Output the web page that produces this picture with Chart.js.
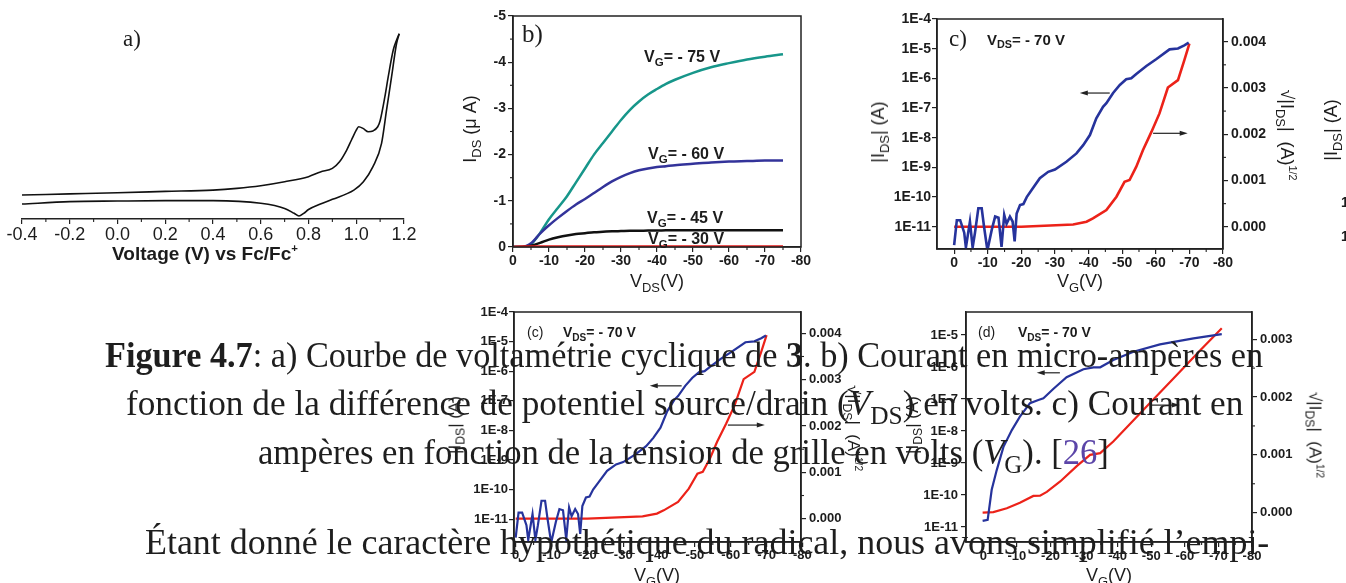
<!DOCTYPE html>
<html>
<head>
<meta charset="utf-8">
<script src="https://cdn.jsdelivr.net/npm/chart.js@4.4.1/dist/chart.umd.min.js"></script>
<style>
  html, body { margin: 0; padding: 0; background: #fff; }
  #page { position: relative; width: 1346px; height: 583px; overflow: hidden; background: #fff; }
  .holder { position: absolute; }
  .t { position: absolute; white-space: nowrap; color: #1c1c1c; font-family: "Liberation Sans", Arial, sans-serif; line-height: 1; }
  .serif { font-family: "Liberation Serif", "DejaVu Serif", serif; }
  .t sub, .cap sub { font-size: 0.72em; vertical-align: -0.35em; line-height: 0; }
  .t sup { font-size: 0.6em; vertical-align: 0.7em; line-height: 0; }
  .cap { position: absolute; white-space: nowrap; font-family: "Liberation Serif", serif; font-size: 35px; line-height: 35px; color: #1e1e1e; transform-origin: 0 0; }
  .ref { color: #5b45a8; }
</style>
</head>
<body>
<div id="page"></div>
<script>
// ---------- data ----------
// a) cyclic voltammetry, current in arbitrary units
const aTicks = ["-0.4", "-0.2", "0.0", "0.2", "0.4", "0.6", "0.8", "1.0", "1.2"]
const aUpperV = [-0.4, -0.2, 0, 0.2, 0.4, 0.5, 0.6, 0.7, 0.8, 0.85, 0.9, 0.93, 0.96, 0.98, 1.0, 1.01, 1.03, 1.05, 1.07, 1.09, 1.1, 1.12, 1.134, 1.155, 1.169, 1.18]
const aUpperI = [12.7, 13.3, 13.9, 14.6, 15.3, 16.2, 17.6, 19.7, 22.4, 24.9, 26.8, 30.3, 36.5, 41.8, 47, 48.8, 47.8, 46.2, 46.6, 48.8, 52, 64.7, 75.3, 89.4, 94.7, 98]
const aLowerV = [-0.4, -0.2, 0, 0.2, 0.4, 0.6, 0.7, 0.74, 0.76, 0.78, 0.8, 0.85, 0.9, 0.99, 1.03, 1.07, 1.106, 1.127, 1.148, 1.169, 1.18]
const aLowerI = [7.9, 9.2, 9.5, 9.7, 9.7, 8.3, 5.6, 3, 1.6, 3, 5, 7.9, 10.4, 15.3, 19.7, 27.7, 40, 57.7, 75.3, 93, 98]

// b) output curves, I_DS (uA) vs V_DS (V)
const bXTicks = ["0", "-10", "-20", "-30", "-40", "-50", "-60", "-70", "-80"]
const bYTicks = ["-5", "-4", "-3", "-2", "-1", "0"]
const bVds = [0, -2.5, -5, -7.5, -10, -12.5, -15, -17.5, -20, -22.5, -25, -27.5, -30, -32.5, -35, -37.5, -40, -42.5, -45, -50, -55, -60, -65, -70, -75]
const bVg75 = [0, 0, -0.06, -0.3, -0.6, -0.85, -1.1, -1.4, -1.7, -2.0, -2.25, -2.5, -2.75, -2.97, -3.15, -3.3, -3.42, -3.53, -3.62, -3.77, -3.89, -3.98, -4.06, -4.12, -4.17]
const bVg60 = [0, 0, -0.08, -0.29, -0.47, -0.63, -0.78, -0.92, -1.04, -1.17, -1.3, -1.42, -1.52, -1.6, -1.66, -1.7, -1.73, -1.75, -1.77, -1.8, -1.83, -1.85, -1.86, -1.87, -1.87]
const bVg45 = [0, 0, -0.03, -0.09, -0.16, -0.21, -0.25, -0.28, -0.3, -0.32, -0.33, -0.34, -0.345, -0.35, -0.35, -0.355, -0.355, -0.36, -0.36, -0.36, -0.36, -0.36, -0.36, -0.365, -0.365]
const bVg30 = [0, -0.01, -0.01, -0.01, -0.01, -0.01, -0.01, -0.01, -0.01, -0.01, -0.01, -0.01, -0.01, -0.01, -0.01, -0.01, -0.01, -0.01, -0.01, -0.01, -0.01, -0.01, -0.01, -0.01, -0.01]

// c) transfer curve, V_DS = -70 V
const cXTicks = ["0", "-10", "-20", "-30", "-40", "-50", "-60", "-70", "-80"]
const cLogTicks = ["1E-4", "1E-5", "1E-6", "1E-7", "1E-8", "1E-9", "1E-10", "1E-11"]
const cSqrtTicks = ["0.000", "0.001", "0.002", "0.003", "0.004"]
const cBlueVg = [0, -0.8, -1.8, -3, -3.5, -4.7, -5.5, -6.2, -7.2, -8.2, -8.9, -9.9, -11.2, -12.2, -13.2, -14.1, -14.9, -15.6, -16.6, -17.4, -18, -18.6, -19.6, -20.6, -21.6, -23, -25.5, -28, -30, -33.4, -36.4, -38.4, -40.4, -42.3, -44.3, -45.3, -47.3, -49.3, -51.2, -52.7, -54.2, -57.2, -60.1, -64.1, -66.6, -68.5, -69.8]
const cBlueIds = [2.4e-12, 1.66e-11, 1.66e-11, 6.3e-12, 2.0e-12, 1.5e-11, 2.0e-12, 6.3e-12, 4.2e-11, 4.2e-11, 1.0e-11, 1.6e-12, 8.0e-12, 2.2e-11, 2.0e-11, 2.1e-12, 2.5e-11, 1.26e-11, 2.2e-11, 1.5e-11, 3.2e-12, 2.8e-11, 5.4e-11, 5.8e-11, 1.0e-10, 1.7e-10, 4.3e-10, 7.1e-10, 8.5e-10, 1.55e-9, 2.95e-9, 5.6e-9, 1.23e-8, 4.5e-8, 1.1e-7, 1.45e-7, 3.2e-7, 6.0e-7, 9.3e-7, 1.0e-6, 1.4e-6, 2.6e-6, 4.4e-6, 9.5e-6, 1.02e-5, 1.3e-5, 1.6e-5]
const cRedVg = [0, -20, -35.4, -39.4, -41.3, -45.3, -48.3, -50.7, -52.2, -54.2, -56.2, -58.7, -61.1, -63.6, -66.6, -68.5, -70]
const cRedSqrt = [0, 0, 0.00005, 0.00011, 0.00018, 0.00036, 0.00065, 0.00097, 0.00101, 0.0013, 0.00166, 0.00205, 0.00245, 0.00301, 0.00317, 0.0036, 0.00396]
const cArrows = [{ axis: "y", at: 3.2e-7, from: -46.3, to: -37.4 }, { axis: "y2", at: 0.00202, from: -59.2, to: -69.5 }]

// d) transfer curve, V_DS = -70 V
const dXTicks = ["0", "-10", "-20", "-30", "-40", "-50", "-60", "-70", "-80"]
const dLogTicks = ["1E-5", "1E-6", "1E-7", "1E-8", "1E-9", "1E-10", "1E-11"]
const dSqrtTicks = ["0.000", "0.001", "0.002", "0.003"]
const dBlueVg = [0.2, -1.3, -2.5, -4, -6, -8.5, -10.9, -13.9, -16.4, -17.9, -20.9, -24.8, -29.8, -32.8, -34.8, -38.7, -44.7, -52.6, -62.6, -71]
const dBlueIds = [1.55e-11, 1.66e-11, 1.45e-10, 6.0e-10, 3.2e-9, 1.07e-8, 2.8e-8, 7.4e-8, 9.3e-8, 1.05e-7, 2.1e-7, 4.8e-7, 8.5e-7, 9.8e-7, 9.8e-7, 1.66e-6, 3.0e-6, 5.1e-6, 7.9e-6, 1.07e-5]
const dRedVg = [0.2, -3, -7, -10.9, -14.9, -16.9, -18.9, -22.9, -27.9, -31.8, -34.8, -38.7, -47.7, -57.6, -64.6, -71]
const dRedSqrt = [0, 0.00001, 0.000076, 0.00017, 0.00029, 0.000294, 0.00036, 0.00054, 0.00081, 0.001, 0.00103, 0.00123, 0.00178, 0.00238, 0.00281, 0.00319]
const dArrows = [{ axis: "y", at: 6.6e-7, from: -22.8, to: -15.9 }, { axis: "y2", at: 0.00186, from: -50, to: -58.5 }]

// ---------- setup ----------
Chart.defaults.font.family = '"Liberation Sans", Arial, sans-serif'
Chart.defaults.color = "#1c1c1c"
Chart.defaults.animation = false
Chart.defaults.events = []
Chart.defaults.plugins.legend.display = false
Chart.defaults.plugins.tooltip.enabled = false
Chart.defaults.elements.point.radius = 0

const page = document.getElementById("page")

// frame, minor ticks and arrows drawn with the chart's own scales
const framePlugin = {
  id: "frame",
  afterDatasetsDraw(chart, args, opts) {
    const ctx = chart.ctx
    const a = chart.chartArea
    ctx.save()
    ctx.strokeStyle = "#222"
    ctx.fillStyle = "#222"
    if (opts.box) {
      ctx.lineWidth = opts.width || 1.5
      ctx.strokeRect(a.left, a.top, a.right - a.left, a.bottom - a.top)
    }
    ;(opts.minor || []).forEach(m => {
      const s = chart.scales[m.axis]
      ctx.lineWidth = 1.1
      for (let v = m.from; v <= m.to + m.step / 100; v += m.step) {
        const p = s.getPixelForValue(v)
        ctx.beginPath()
        if (s.position === "bottom") { ctx.moveTo(p, a.bottom); ctx.lineTo(p, a.bottom + m.len) }
        else if (s.position === "left") { ctx.moveTo(a.left, p); ctx.lineTo(a.left - m.len, p) }
        else { ctx.moveTo(a.right, p); ctx.lineTo(a.right + m.len, p) }
        ctx.stroke()
      }
    })
    ;(opts.arrows || []).forEach(ar => {
      const x0 = chart.scales.x.getPixelForValue(ar.from)
      const x1 = chart.scales.x.getPixelForValue(ar.to)
      const y = chart.scales[ar.axis].getPixelForValue(ar.at)
      const dir = x1 > x0 ? 1 : -1
      ctx.lineWidth = 1.2
      ctx.beginPath()
      ctx.moveTo(x0, y)
      ctx.lineTo(x1 - dir * 6, y)
      ctx.stroke()
      ctx.beginPath()
      ctx.moveTo(x1, y)
      ctx.lineTo(x1 - dir * 8, y - 2.5)
      ctx.lineTo(x1 - dir * 8, y + 2.5)
      ctx.closePath()
      ctx.fill()
    })
    ctx.restore()
  }
}

function placeChart(id, box, pad) {
  // box = [left, top, right, bottom] of the plot area, pad = [top, right, bottom, left]
  const holder = document.createElement("div")
  holder.setAttribute("class", "holder")
  holder.style.left = (box[0] - pad[3]) + "px"
  holder.style.top = (box[1] - pad[0]) + "px"
  holder.style.width = (box[2] - box[0] + pad[1] + pad[3]) + "px"
  holder.style.height = (box[3] - box[1] + pad[0] + pad[2]) + "px"
  const canvasElement = document.createElement("canvas")
  canvasElement.setAttribute("id", id)
  holder.appendChild(canvasElement)
  page.appendChild(holder)
  return canvasElement.getContext("2d")
}

function axis(o) {
  const labels = o.labels
  return {
    type: o.type || "linear",
    position: o.position,
    min: o.min,
    max: o.max,
    reverse: !!o.reverse,
    afterBuildTicks: s => { s.ticks = labels.map(t => ({ value: parseFloat(t) })) },
    afterFit: s => {
      if (s.isHorizontal()) { s.height = o.size; s.paddingLeft = 0; s.paddingRight = 0 }
      else { s.width = o.size; s.paddingTop = 0; s.paddingBottom = 0 }
    },
    ticks: { autoSkip: false, maxRotation: 0, padding: o.pad, font: o.font, color: "#1c1c1c", callback: (v, i) => labels[i] },
    grid: { drawOnChartArea: false, tickLength: 5, color: "#222", lineWidth: 1.2 },
    border: { display: true, color: "#222", width: 1.5 }
  }
}

function line(xs, ys, color, width, yAxisID, smooth) {
  return {
    data: xs.map((x, i) => ({ x: x, y: ys[i] })),
    borderColor: color,
    borderWidth: width,
    pointRadius: 0,
    fill: false,
    yAxisID: yAxisID,
    cubicInterpolationMode: smooth ? "monotone" : "default",
    tension: 0
  }
}

function addText(html, x, y, cls, size, anchor, rot) {
  const el = document.createElement("div")
  el.setAttribute("class", "t " + (cls || ""))
  el.innerHTML = html
  el.style.left = x + "px"
  el.style.top = y + "px"
  el.style.fontSize = size + "px"
  const tx = anchor === "left" ? "0" : "-50%"
  el.style.transform = "translate(" + tx + ",-50%)" + (rot ? " rotate(" + rot + "deg)" : "")
  page.appendChild(el)
}

function addCaption(html, x0, x1, baseline) {
  const el = document.createElement("div")
  el.setAttribute("class", "cap")
  el.innerHTML = html
  el.style.left = x0 + "px"
  el.style.top = (baseline - 28.5) + "px"
  page.appendChild(el)
  const w = el.offsetWidth
  el.style.transform = "scaleX(" + ((x1 - x0) / w) + ")"
}

// ---------- charts ----------
function generateVoltammetry() {
  const ctx = placeChart("voltammetry", [22, 30, 404, 219], [10, 30, 40, 22])
  new Chart(ctx, {
    type: "line",
    data: {
      datasets: [
        line(aUpperV, aUpperI, "#111", 1.6, "y", true),
        line(aLowerV, aLowerI, "#111", 1.6, "y", true)
      ]
    },
    options: {
      responsive: true,
      maintainAspectRatio: false,
      layout: { padding: { top: 10, right: 30, bottom: 0, left: 22 } },
      scales: {
        x: axis({ labels: aTicks, position: "bottom", min: -0.4, max: 1.2, size: 40, pad: 0, font: { size: 18 } }),
        y: { display: false, min: 0, max: 100 }
      },
      plugins: { frame: { box: false, minor: [{ axis: "x", from: -0.3, to: 1.1, step: 0.2, len: 3 }] } }
    },
    plugins: [framePlugin]
  })
}

function generateOutput() {
  const ctx = placeChart("output", [513, 16, 801, 247], [10, 20, 40, 40])
  new Chart(ctx, {
    type: "line",
    data: {
      datasets: [
        line(bVds, bVg30, "#e41b1b", 2.5, "y", true),
        line(bVds, bVg45, "#111", 2.5, "y", true),
        line(bVds, bVg60, "#33339a", 2.5, "y", true),
        line(bVds, bVg75, "#17968a", 2.5, "y", true)
      ]
    },
    options: {
      responsive: true,
      maintainAspectRatio: false,
      layout: { padding: { top: 10, right: 20, bottom: 0, left: 0 } },
      scales: {
        x: axis({ labels: bXTicks, position: "bottom", min: -80, max: 0, reverse: true, size: 40, pad: 1, font: { size: 14, weight: "bold" } }),
        y: axis({ labels: bYTicks, position: "left", min: -5, max: 0, reverse: true, size: 40, pad: 2, font: { size: 14, weight: "bold" } })
      },
      plugins: {
        frame: {
          box: true,
          minor: [
            { axis: "x", from: -75, to: -5, step: 10, len: 3 },
            { axis: "y", from: -4.5, to: -0.5, step: 1, len: 3 }
          ]
        }
      }
    },
    plugins: [framePlugin]
  })
}

function generateTransfer(id, box, pad, r, fontSize, lw) {
  const ctx = placeChart(id, box, pad)
  new Chart(ctx, {
    type: "line",
    data: {
      datasets: [
        line(cBlueVg, cBlueIds, "#26339c", lw, "y", false),
        line(cRedVg, cRedSqrt, "#ec2219", lw, "y2", false)
      ]
    },
    options: {
      responsive: true,
      maintainAspectRatio: false,
      layout: { padding: { top: pad[0], right: 0, bottom: 0, left: 0 } },
      scales: {
        x: axis({ labels: cXTicks, position: "bottom", min: r.x[0], max: r.x[1], reverse: true, size: pad[2], pad: 1, font: { size: fontSize, weight: "bold" } }),
        y: axis({ labels: cLogTicks, type: "logarithmic", position: "left", min: r.y[0], max: r.y[1], size: pad[3], pad: 1, font: { size: fontSize, weight: "bold" } }),
        y2: axis({ labels: cSqrtTicks, position: "right", min: r.y2[0], max: r.y2[1], size: pad[1], pad: 3, font: { size: fontSize, weight: "bold" } })
      },
      plugins: {
        frame: {
          box: true,
          minor: [
            { axis: "x", from: -75, to: -5, step: 10, len: 3 },
            { axis: "y2", from: 0.0005, to: 0.0035, step: 0.001, len: 3 }
          ],
          arrows: cArrows
        }
      }
    },
    plugins: [framePlugin]
  })
}

function generateTransferD() {
  const ctx = placeChart("transferD", [966, 312, 1252, 542], [12, 60, 40, 60])
  new Chart(ctx, {
    type: "line",
    data: {
      datasets: [
        line(dBlueVg, dBlueIds, "#26339c", 2.2, "y", false),
        line(dRedVg, dRedSqrt, "#ec2219", 2.2, "y2", false)
      ]
    },
    options: {
      responsive: true,
      maintainAspectRatio: false,
      layout: { padding: { top: 12, right: 0, bottom: 0, left: 0 } },
      scales: {
        x: axis({ labels: dXTicks, position: "bottom", min: -80, max: 5.15, reverse: true, size: 40, pad: 2, font: { size: 13, weight: "bold" } }),
        y: axis({ labels: dLogTicks, type: "logarithmic", position: "left", min: Math.pow(10, -11.47), max: Math.pow(10, -4.28), size: 60, pad: 3, font: { size: 13, weight: "bold" } }),
        y2: axis({ labels: dSqrtTicks, position: "right", min: -0.000507, max: 0.00347, size: 60, pad: 3, font: { size: 13, weight: "bold" } })
      },
      plugins: {
        frame: {
          box: true,
          minor: [
            { axis: "x", from: -75, to: -5, step: 10, len: 3 },
            { axis: "y2", from: 0.0005, to: 0.0025, step: 0.001, len: 3 }
          ],
          arrows: dArrows
        }
      }
    },
    plugins: [framePlugin]
  })
}

generateVoltammetry()
generateOutput()
generateTransfer("transferTop", [937, 19, 1223, 249], [12, 60, 40, 60],
  { x: [-80, 5.1], y: [Math.pow(10, -11.75), 1e-4], y2: [-0.00048, 0.00449] }, 14, 2.6)
generateTransfer("transferLow", [514, 312, 801, 542], [12, 60, 40, 60],
  { x: [-79.6, 0.47], y: [Math.pow(10, -11.77), 1e-4], y2: [-0.000503, 0.00446] }, 13, 2.2)
generateTransferD()

// ---------- annotations ----------
addText("a)", 123, 38, "serif", 23, "left")
addText("<b>Voltage (V) vs Fc/Fc<sup>+</sup></b>", 205, 253, "", 19)

addText("b)", 522, 33, "serif", 25, "left")
addText("I<sub>DS</sub> (μ A)", 470, 129, "", 18, "", -90)
addText("V<sub>DS</sub>(V)", 657, 281, "", 18)
addText("<b>V<sub>G</sub>= - 75 V</b>", 644, 57, "", 16, "left")
addText("<b>V<sub>G</sub>= - 60 V</b>", 648, 154, "", 16, "left")
addText("<b>V<sub>G</sub>= - 45 V</b>", 647, 218, "", 16, "left")
addText("<b>V<sub>G</sub>= - 30 V</b>", 648, 239, "", 16, "left")

addText("V<sub>DS</sub>(V)", 1060, -12, "", 18)
addText("c)", 949, 38, "serif", 23, "left")
addText("<b>V<sub>DS</sub>= - 70 V</b>", 987, 39, "", 15, "left")
addText("|I<sub>DS</sub>| (A)", 878, 132, "", 18, "", -90)
addText("√|I<sub>DS</sub>| &nbsp;(A)<sup>1/2</sup>", 1287, 135, "", 18, "", 90)
addText("V<sub>G</sub>(V)", 1080, 281, "", 18)
addText("|I<sub>DS</sub>| (A)", 1331, 130, "", 18, "", -90)
addText("<b>1E-10</b>", 1341, 202, "", 14, "left")
addText("<b>1E-11</b>", 1341, 236, "", 14, "left")

addText("(c)", 527, 332, "", 14, "left")
addText("<b>V<sub>DS</sub>= - 70 V</b>", 563, 332, "", 14, "left")
addText("|I<sub>DS</sub>| (A)", 455, 425, "", 17, "", -90)
addText("√|I<sub>DS</sub>| &nbsp;(A)<sup>1/2</sup>", 853, 428, "", 17, "", 90)
addText("V<sub>G</sub>(V)", 657, 575, "", 18)

addText("(d)", 978, 332, "", 14, "left")
addText("<b>V<sub>DS</sub>= - 70 V</b>", 1018, 332, "", 14, "left")
addText("|I<sub>DS</sub>| (A)", 912, 425, "", 17, "", -90)
addText("√|I<sub>DS</sub>| &nbsp;(A)<sup>1/2</sup>", 1315, 435, "", 17, "", 90)
addText("V<sub>G</sub>(V)", 1109, 575, "", 18)

// caption and text of the page, drawn over the lower charts
addCaption("<b>Figure 4.7</b>: a) Courbe de voltamétrie cyclique de <b>3</b>. b) Courant en micro-ampères en", 105, 1263, 366)
addCaption("fonction de la différence de potentiel source/drain (<i>V</i><sub>DS</sub>) en volts. c) Courant en", 126, 1243, 414.5)
addCaption("ampères en fonction de la tension de grille en volts (<i>V</i><sub>G</sub>). [<span class=\"ref\">26</span>]", 258, 1109, 463)
addCaption("Étant donné le caractère hypothétique du radical, nous avons simplifié l’empi-", 145, 1269, 553)
</script>
</body>
</html>
